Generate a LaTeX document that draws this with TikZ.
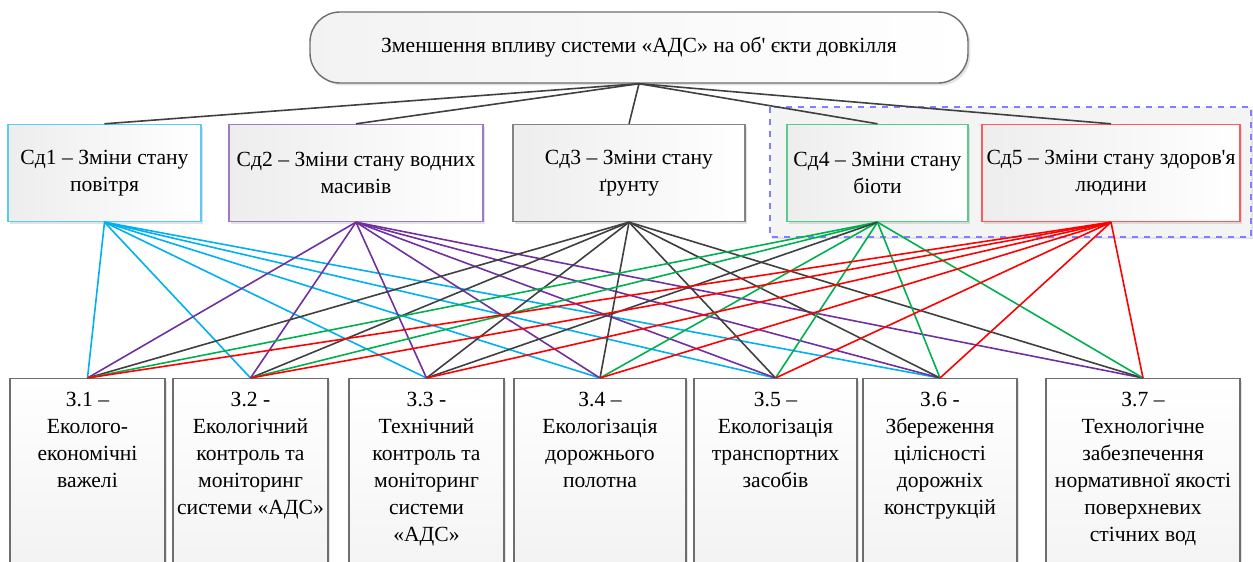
\documentclass[tikz,border=0pt]{standalone}
\usepackage{fontspec}
\setmainfont{Liberation Serif}[Ligatures=TeXOff]
\usepackage{xcolor}
\usepackage{tikz}
\usetikzlibrary{shadows}
\definecolor{airblue}{HTML}{00B0F0}
\definecolor{waterviolet}{HTML}{7030A0}
\definecolor{soildark}{HTML}{404040}
\definecolor{biotagreen}{HTML}{00B050}
\definecolor{healthred}{HTML}{FF0000}
\definecolor{framegray}{HTML}{6E6E6E}
\definecolor{groupblue}{HTML}{8080FF}

\begin{document}
\begin{tikzpicture}[x=0.5pt, y=-0.5pt,
    font=\fontsize{10.8}{13.5}\selectfont,
    softshadow/.style={drop shadow={shadow xshift=1.2pt, shadow yshift=-1.2pt, opacity=0.22, fill=gray}},
    sdbox/.style={draw=#1!65!white, line width=0.7pt, left color=gray!14, right color=white,
                  align=center, inner sep=0pt, minimum height=48.5pt, softshadow},
    zbox/.style={draw=framegray, line width=0.7pt, top color=white, bottom color=gray!18,
                 align=center, anchor=north, inner xsep=1pt, inner ysep=6.5pt, text depth=110pt, softshadow},
    link/.style={line width=0.8pt, draw=#1},
    toplink/.style={line width=0.8pt, draw=soildark}]
  \useasboundingbox (0,0) rectangle (1253,562);
  \clip (0,0) rectangle (1253,562);

  \draw[groupblue, dashed, line width=0.6pt, fill=gray!9, softshadow] (770,107) rectangle (1251,237);

  \node[draw=framegray, line width=0.7pt, rounded corners=15pt, left color=gray!10, right color=white,
        minimum width=329pt, minimum height=35.5pt, softshadow] (goal) at (639,47.5)
        {Зменшення впливу системи «АДС» на об' єкти довкілля};

  \node[sdbox=airblue, minimum width=96.5pt] (sd1) at (104.5,173) {Сд1 – Зміни стану\\повітря};
  \node[sdbox=waterviolet, minimum width=127pt] (sd2) at (356,173) {Сд2 – Зміни стану водних\\масивів};
  \node[sdbox=soildark, minimum width=116pt] (sd3) at (629,173) {Сд3 – Зміни стану\\ґрунту};
  \node[sdbox=biotagreen, minimum width=90.5pt] (sd4) at (877.5,173) {Сд4 – Зміни стану\\біоти};
  \node[sdbox=healthred, minimum width=129pt] (sd5) at (1111,173) {Сд5 – Зміни стану здоров'я\\людини};

  \node[zbox, minimum width=77.5pt] (z1) at (87.5,378) {З.1 –\\Еколого-\\економічні\\важелі};
  \node[zbox, minimum width=77.5pt] (z2) at (250.5,378) {З.2 -\\Екологічний\\контроль та\\моніторинг\\системи «АДС»};
  \node[zbox, minimum width=77.5pt] (z3) at (426.5,378) {З.3 -\\Технічний\\контроль та\\моніторинг\\системи\\«АДС»};
  \node[zbox, minimum width=86pt] (z4) at (600,378) {З.4 –\\Екологізація\\дорожнього\\полотна};
  \node[zbox, minimum width=81.5pt] (z5) at (775.5,378) {З.5 –\\Екологізація\\транспортних\\засобів};
  \node[zbox, minimum width=77pt] (z6) at (940,378) {З.6 -\\Збереження\\цілісності\\дорожніх\\конструкцій};
  \node[zbox, minimum width=97pt] (z7) at (1143,378) {З.7 –\\Технологічне\\забезпечення\\нормативної якості\\поверхневих\\стічних вод};

  \foreach \s in {1,...,5}
    \draw[toplink] (goal.south) -- (sd\s.north);

  \foreach \t in {1,...,6}
    \draw[link=airblue] (sd1.south) -- (z\t.north);
  \foreach \t in {1,...,7}
    \draw[link=waterviolet] (sd2.south) -- (z\t.north);
  \foreach \t in {1,...,7}
    \draw[link=soildark] (sd3.south) -- (z\t.north);
  \foreach \t in {1,2,4,5,6,7}
    \draw[link=biotagreen] (sd4.south) -- (z\t.north);
  \draw[link=soildark] (sd4.south) -- (z3.north);
  \foreach \t in {1,...,7}
    \draw[link=healthred] (sd5.south) -- (z\t.north);
\end{tikzpicture}
\end{document}
